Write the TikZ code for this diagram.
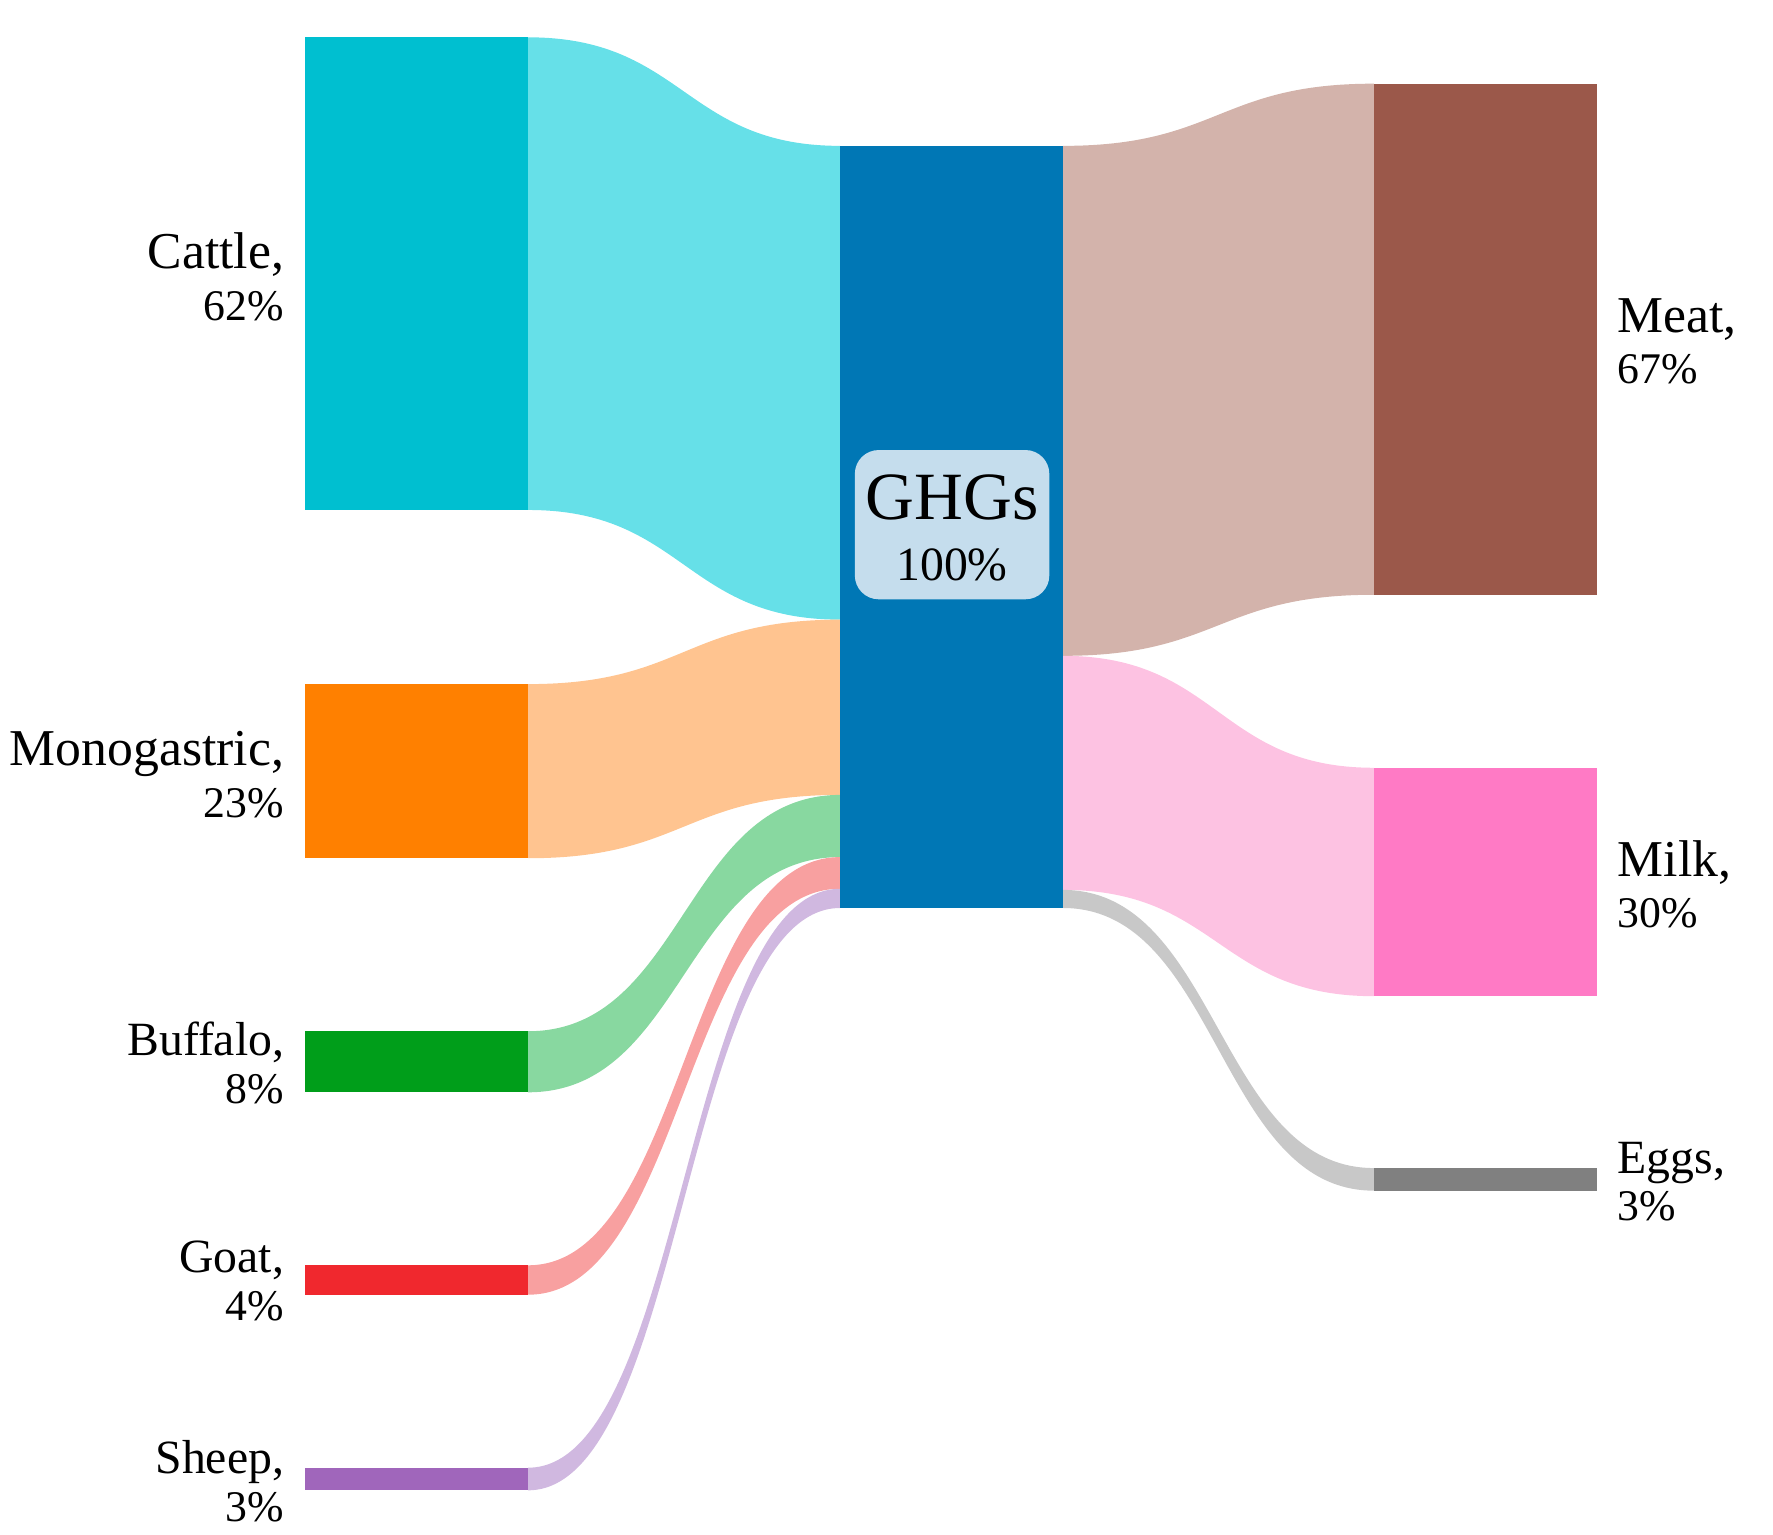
\documentclass[tikz,border=0pt]{standalone}
\usepackage{fontspec}
\setmainfont{Liberation Serif}
\definecolor{cattle}{HTML}{00BFD0}\definecolor{cattleF}{HTML}{66E0E8}
\definecolor{mono}{HTML}{FF8000}\definecolor{monoF}{HTML}{FFC490}
\definecolor{buff}{HTML}{009E1A}\definecolor{buffF}{HTML}{88D8A0}
\definecolor{goat}{HTML}{F0282E}\definecolor{goatF}{HTML}{F8A0A0}
\definecolor{sheep}{HTML}{A066BB}\definecolor{sheepF}{HTML}{D0B8E0}
\definecolor{ghg}{HTML}{0077B5}\definecolor{ghgbox}{HTML}{C5DDED}
\definecolor{meat}{HTML}{9B584A}\definecolor{meatF}{HTML}{D3B3AB}
\definecolor{milk}{HTML}{FF7AC5}\definecolor{milkF}{HTML}{FDC2E2}
\definecolor{eggs}{HTML}{808080}\definecolor{eggsF}{HTML}{C8C8C8}
\newcommand{\myflow}[7]{\fill[#1] (#2,#3) .. controls ({(#2+#5)/2},#3) and ({(#2+#5)/2},#6) .. (#5,#6) -- (#5,#7) .. controls ({(#2+#5)/2},#7) and ({(#2+#5)/2},#4) .. (#2,#4) -- cycle;}
\newcommand{\mypct}{\fontsize{11}{13}\selectfont}
\begin{document}
\begin{tikzpicture}[x=0.01cm,y=-0.01cm,
  lbl/.style={align=right,anchor=east,inner sep=0pt,font=\fontsize{13}{15}\selectfont},
  rlbl/.style={align=left,anchor=west,inner sep=0pt,font=\fontsize{13}{15}\selectfont}]
\useasboundingbox (0,0) rectangle (1568,1357);
% flows
\myflow{cattleF}{467}{33}{451}{743}{129}{548}
\myflow{monoF}{467}{605}{759}{743}{548}{703}
\myflow{buffF}{467}{912}{966}{743}{703}{758}
\myflow{goatF}{467}{1119}{1145}{743}{758}{786}
\myflow{sheepF}{467}{1298}{1318}{743}{786}{803}
\myflow{meatF}{940}{129}{580}{1215}{74}{526}
\myflow{milkF}{940}{580}{787}{1215}{679}{881}
\myflow{eggsF}{940}{787}{803}{1215}{1033}{1053}
% nodes
\fill[cattle] (270,33) rectangle (467,451);
\fill[mono] (270,605) rectangle (467,759);
\fill[buff] (270,912) rectangle (467,966);
\fill[goat] (270,1119) rectangle (467,1145);
\fill[sheep] (270,1298) rectangle (467,1318);
\fill[ghg] (743,129) rectangle (940,803);
\fill[meat] (1215,74) rectangle (1412,526);
\fill[milk] (1215,679) rectangle (1412,881);
\fill[eggs] (1215,1033) rectangle (1412,1053);
\fill[ghgbox,rounded corners=6pt] (756,398) rectangle (928,530);
\node[font=\fontsize{17}{20}\selectfont] (g1) at (842,440) {GHGs};
\node[font=\fontsize{12}{15}\selectfont] (g2) at (842,500) {100\%};
% labels
\node[lbl] (lc) at (252,245) {Cattle,\\[-2pt]{\mypct 62\%}};
\node[lbl] (lm) at (252,685) {Monogastric,\\[-2pt]{\mypct 23\%}};
\node[lbl,font=\fontsize{12}{14}\selectfont] (lb) at (252,940) {Buffalo,\\[-2pt]{\mypct 8\%}};
\node[lbl,font=\fontsize{12}{14}\selectfont] (lg) at (252,1133) {Goat,\\[-2pt]{\mypct 4\%}};
\node[lbl,font=\fontsize{12}{14}\selectfont] (ls) at (252,1310) {Sheep,\\[-2pt]{\mypct 3\%}};
\node[rlbl] (rm) at (1430,302) {Meat,\\[-2pt]{\mypct 67\%}};
\node[rlbl] (rk) at (1430,782) {Milk,\\[-2pt]{\mypct 30\%}};
\node[rlbl,font=\fontsize{12}{14}\selectfont] (re) at (1430,1045) {Eggs,\\[-2pt]{\mypct 3\%}};
\end{tikzpicture}
\end{document}
